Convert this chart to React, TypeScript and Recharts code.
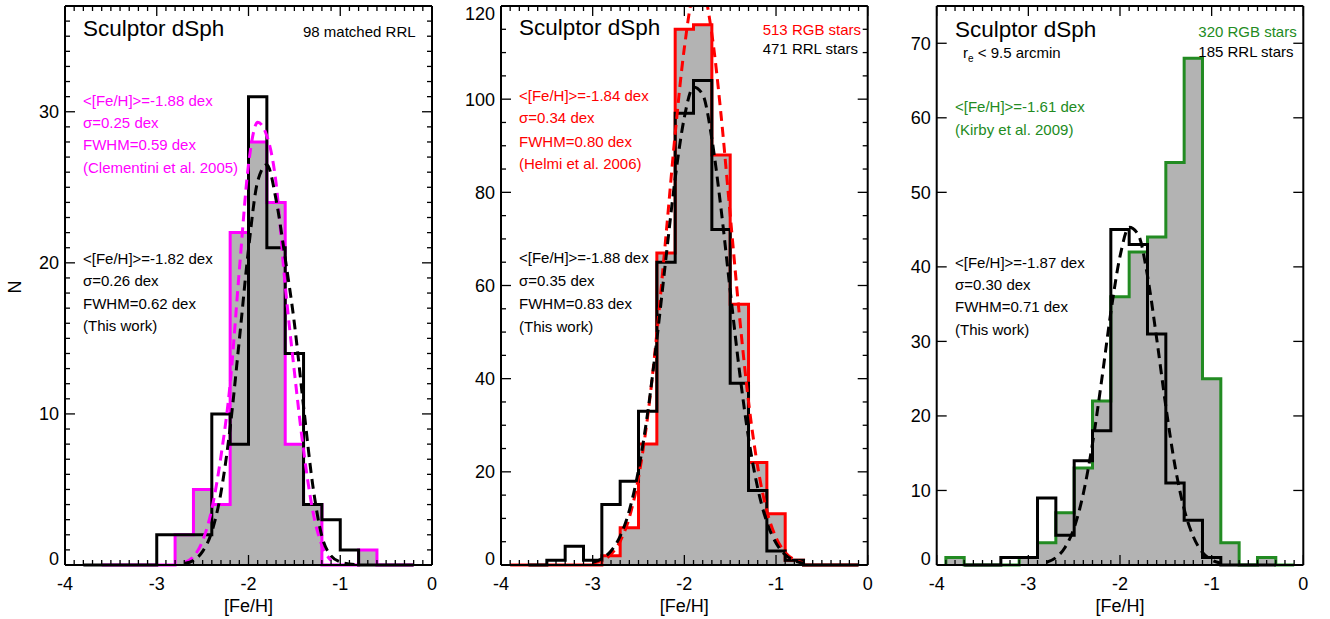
import React from 'react';
import { ComposedChart, Line, Area, XAxis, YAxis } from 'recharts';

const FONT = '"Liberation Sans", Arial, Helvetica, sans-serif';
const BIN_WIDTH = 0.2;
const GREY = '#B3B3B3';
const MAGENTA = '#FF00FF';
const RED = '#FF0000';
const GREEN = '#228B22';

// ---------- axis ticks ----------
const xMajorTicks = [-4, -3, -2, -1, 0];
const xMinorStepTicks = Array.from({ length: 41 }, (_, i) => (i - 40) / 10);

const p1YMajor = [0, 10, 20, 30];
const p1YTicks = Array.from({ length: 38 }, (_, i) => i);
const p2YMajor = [0, 20, 40, 60, 80, 100, 120];
const p2YTicks = Array.from({ length: 25 }, (_, i) => i * 5);
const p3YMajor = [0, 10, 20, 30, 40, 50, 60, 70];
const p3YTicks = [0, 10, 20, 30, 40, 50, 60, 70];

// ---------- Panel 1: 98 matched RRL vs Clementini et al. 2005 ----------
const p1RrlStart = -3.8;
const p1RrlCounts = [0, 0, 0, 0, 2, 2, 2, 10, 8, 31, 21, 14, 4, 3, 1, 0, 0, 0];
const p1ClemStart = -3.6;
const p1ClemCounts = [0, 0, 0, 0, 2, 5, 4, 22, 28, 24, 8, 4, 0, 0, 1, 0, 0];
const p1ClemFitX = [-2.7, -2.6, -2.5, -2.4, -2.3, -2.2, -2.1, -2.0, -1.9, -1.8, -1.7, -1.6, -1.5, -1.4, -1.3, -1.2, -1.1];
const p1ClemFitY = [0.15, 0.55, 1.6, 3.7, 7.2, 12.0, 19.5, 26.5, 29.3, 28.4, 25.3, 18.5, 12.8, 7.6, 3.6, 1.3, 0.3];
const p1RrlFitX = [-2.7, -2.6, -2.5, -2.4, -2.3, -2.2, -2.1, -2.0, -1.9, -1.8, -1.7, -1.6, -1.5, -1.4, -1.3, -1.2, -1.1, -1.0, -0.9, -0.8];
const p1RrlFitY = [0.1, 0.3, 0.9, 2.2, 4.8, 9.1, 14.9, 20.9, 25.4, 26.5, 24.2, 20.3, 16.0, 10.5, 5.3, 1.9, 0.6, 0.2, 0.07, 0.02];

// ---------- Panel 2: 471 RRL vs 513 RGB (Helmi et al. 2006) ----------
const p2RrlStart = -3.7;
const p2RrlCounts = [0, 1, 4, 1, 13, 18, 33, 65, 97, 104, 72, 39, 16, 3, 1, 0, 0, 0];
const p2HelmiStart = -3.9;
const p2HelmiCounts = [0, 0, 0, 0, 0, 2, 8, 26, 67, 115, 116, 88, 56, 22, 11, 1, 0, 0, 0];
const p2FitX = [-3.0, -2.9, -2.8, -2.7, -2.6, -2.5, -2.4, -2.3, -2.2, -2.1, -2.0, -1.9, -1.8, -1.7, -1.6, -1.5, -1.4, -1.3, -1.2, -1.1, -1.0, -0.9, -0.8, -0.7];
const p2RrlFitY = [0.56, 1.36, 3.0, 6.2, 11.7, 20.4, 32.7, 48.4, 66.0, 83.0, 96.1, 102.6, 101.0, 91.5, 76.5, 58.9, 41.8, 27.3, 16.5, 9.2, 4.7, 2.2, 0.96, 0.39];
const p2HelmiFitY = [0.37, 0.96, 2.3, 5.1, 10.2, 18.8, 31.9, 49.7, 70.8, 92.6, 111.0, 122.1, 123.1, 114.0, 96.7, 75.2, 53.7, 35.1, 21.1, 11.6, 5.9, 2.7, 1.15, 0.45];

// ---------- Panel 3: 185 RRL vs 320 RGB (Kirby et al. 2009) ----------
const p3RrlStart = -3.7;
const p3RrlCounts = [0, 0, 1, 1, 9, 4, 14, 18, 45, 43, 31, 11, 6, 1, 0, 0, 0];
const p3KirbyStart = -3.9;
const p3KirbyCounts = [1, 0, 0, 0, 1, 3, 7, 13, 22, 36, 42, 44, 54, 68, 25, 3, 0, 1, 0];
const p3RrlFitX = [-2.8, -2.7, -2.6, -2.5, -2.4, -2.3, -2.2, -2.1, -2.0, -1.9, -1.8, -1.7, -1.6, -1.5, -1.4, -1.3, -1.2, -1.1, -1.0, -0.9];
const p3RrlFitY = [0.37, 0.99, 2.36, 5.0, 9.6, 16.3, 24.8, 33.9, 41.4, 45.3, 44.3, 38.8, 30.4, 21.3, 13.3, 7.5, 3.8, 1.7, 0.68, 0.24];

// ---------- helpers ----------
type Pt = { x: number; y: number };
const r2 = (v: number) => Math.round(v * 100) / 100;
function histSteps(start: number, counts: number[]): Pt[] {
  const pts: Pt[] = [{ x: r2(start), y: 0 }];
  counts.forEach((c, i) => pts.push({ x: r2(start + i * BIN_WIDTH), y: c }));
  const end = r2(start + counts.length * BIN_WIDTH);
  pts.push({ x: end, y: counts[counts.length - 1] });
  pts.push({ x: end, y: 0 });
  return pts;
}
function curve(xs: number[], ys: number[]): Pt[] {
  return xs.map((x, i) => ({ x, y: ys[i] }));
}

const MAJOR_LEN = 10;
const MINOR_LEN = 5;
const TICK_W = 1.3;

const isXMajor = (v: number) => xMajorTicks.some((m) => Math.abs(m - v) < 1e-6);

const BottomTick = (p: any) => {
  const { x, y, payload } = p;
  const v = payload.value;
  const major = isXMajor(v);
  return (
    <g>
      <line x1={x} x2={x} y1={y} y2={y - (major ? MAJOR_LEN : MINOR_LEN)} stroke="#000" strokeWidth={TICK_W} />
      {major && (
        <text x={x} y={y + 25} textAnchor="middle" fontSize={18} fontFamily={FONT} fill="#000">
          {String(Math.round(v))}
        </text>
      )}
    </g>
  );
};
const TopTick = (p: any) => {
  const { x, y, payload } = p;
  const major = isXMajor(payload.value);
  return <line x1={x} x2={x} y1={y} y2={y + (major ? MAJOR_LEN : MINOR_LEN)} stroke="#000" strokeWidth={TICK_W} />;
};
const LeftTick = (p: any) => {
  const { x, y, payload, majors } = p;
  const v = payload.value;
  const major = majors.includes(v);
  const ty = v === 0 ? y : Math.max(y + 6.5, 20);
  return (
    <g>
      <line x1={x} x2={x + (major ? MAJOR_LEN : MINOR_LEN)} y1={y} y2={y} stroke="#000" strokeWidth={TICK_W} />
      {major && (
        <text x={x - 6} y={ty} textAnchor="end" fontSize={18} fontFamily={FONT} fill="#000">
          {String(v)}
        </text>
      )}
    </g>
  );
};
const RightTick = (p: any) => {
  const { x, y, payload, majors } = p;
  const major = majors.includes(payload.value);
  return <line x1={x} x2={x - (major ? MAJOR_LEN : MINOR_LEN)} y1={y} y2={y} stroke="#000" strokeWidth={TICK_W} />;
};

type PanelProps = {
  left: number;
  width: number;
  mLeft: number;
  mRight: number;
  yMax: number;
  yTicks: number[];
  yMajor: number[];
  refPts: Pt[];
  rrlPts: Pt[];
  refFit?: Pt[];
  rrlFit: Pt[];
  color: string;
  clipRefFit?: boolean;
};

// axes take 1px each so that they render; margins compensate
const AX = 1;

function Panel(props: PanelProps) {
  const { left, width, mLeft, mRight, yMax, yTicks, yMajor, refPts, rrlPts, refFit, rrlFit, color, clipRefFit } = props;
  const axisLine = { stroke: '#000', strokeWidth: 2 };
  return (
    <div style={{ position: 'absolute', left, top: 0 }}>
      <ComposedChart
        width={width}
        height={619}
        margin={{ top: 6 - AX, right: mRight - AX, bottom: 54 - AX, left: mLeft - AX }}
      >
        <XAxis
          xAxisId="b"
          type="number"
          dataKey="x"
          domain={[-4, 0]}
          ticks={xMinorStepTicks}
          interval={0}
          tickSize={0}
          tickMargin={0}
          height={AX}
          axisLine={axisLine}
          tickLine={false}
          tick={(p: any) => <BottomTick {...p} />}
        />
        <XAxis
          xAxisId="t"
          orientation="top"
          type="number"
          dataKey="x"
          domain={[-4, 0]}
          allowDataOverflow
          ticks={xMinorStepTicks}
          interval={0}
          tickSize={0}
          tickMargin={0}
          height={AX}
          axisLine={axisLine}
          tickLine={false}
          tick={(p: any) => <TopTick {...p} />}
        />
        <YAxis
          yAxisId="l"
          type="number"
          domain={[0, yMax]}
          ticks={yTicks}
          interval={0}
          tickSize={0}
          tickMargin={0}
          width={AX}
          axisLine={axisLine}
          tickLine={false}
          tick={(p: any) => <LeftTick {...p} majors={yMajor} />}
        />
        <YAxis
          yAxisId="r"
          orientation="right"
          type="number"
          domain={[0, yMax]}
          allowDataOverflow
          ticks={yTicks}
          interval={0}
          tickSize={0}
          tickMargin={0}
          width={AX}
          axisLine={axisLine}
          tickLine={false}
          tick={(p: any) => <RightTick {...p} majors={yMajor} />}
        />
        <YAxis yAxisId="c" hide type="number" domain={[0, yMax]} allowDataOverflow width={0} />
        <Area
          xAxisId="b"
          yAxisId="l"
          data={refPts}
          dataKey="y"
          type="stepAfter"
          stroke="none"
          fill={GREY}
          fillOpacity={1}
          isAnimationActive={false}
        />
        <Line xAxisId="b" yAxisId="l" data={refPts} dataKey="y" type="stepAfter" stroke={color} strokeWidth={3} dot={false} isAnimationActive={false} />
        <Line xAxisId="b" yAxisId="l" data={rrlPts} dataKey="y" type="stepAfter" stroke="#000" strokeWidth={3} dot={false} isAnimationActive={false} />
        {refFit && (
          <Line
            xAxisId="b"
            yAxisId={clipRefFit ? 'c' : 'l'}
            data={refFit}
            dataKey="y"
            type="monotone"
            stroke={color}
            strokeWidth={3}
            strokeDasharray="10 6"
            dot={false}
            isAnimationActive={false}
          />
        )}
        <Line
          xAxisId="b"
          yAxisId="l"
          data={rrlFit}
          dataKey="y"
          type="monotone"
          stroke="#000"
          strokeWidth={3}
          strokeDasharray="10 6"
          dot={false}
          isAnimationActive={false}
        />
      </ComposedChart>
    </div>
  );
}

const T = (p: { x: number; y: number; c?: string; s?: number; a?: 'start' | 'middle' | 'end'; children: React.ReactNode }) => (
  <text x={p.x} y={p.y} fill={p.c || '#000'} fontSize={p.s || 15} fontFamily={FONT} textAnchor={p.a || 'start'}>
    {p.children}
  </text>
);

export default function App() {
  return (
    <div style={{ position: 'absolute', left: 0, top: 0, width: 1330, height: 619, background: '#fff', overflow: 'hidden' }}>
      <Panel
        left={0}
        width={442}
        mLeft={65}
        mRight={10}
        yMax={37}
        yTicks={p1YTicks}
        yMajor={p1YMajor}
        refPts={histSteps(p1ClemStart, p1ClemCounts)}
        rrlPts={histSteps(p1RrlStart, p1RrlCounts)}
        refFit={curve(p1ClemFitX, p1ClemFitY)}
        rrlFit={curve(p1RrlFitX, p1RrlFitY)}
        color={MAGENTA}
      />
      <Panel
        left={440}
        width={440}
        mLeft={61}
        mRight={12.3}
        yMax={120}
        yTicks={p2YTicks}
        yMajor={p2YMajor}
        refPts={histSteps(p2HelmiStart, p2HelmiCounts)}
        rrlPts={histSteps(p2RrlStart, p2RrlCounts)}
        refFit={curve(p2FitX, p2HelmiFitY)}
        rrlFit={curve(p2FitX, p2RrlFitY)}
        color={RED}
        clipRefFit
      />
      <Panel
        left={880}
        width={450}
        mLeft={56.7}
        mRight={26.7}
        yMax={75}
        yTicks={p3YTicks}
        yMajor={p3YMajor}
        refPts={histSteps(p3KirbyStart, p3KirbyCounts)}
        rrlPts={histSteps(p3RrlStart, p3RrlCounts)}
        rrlFit={curve(p3RrlFitX, p3RrlFitY)}
        color={GREEN}
      />
      <svg width={1330} height={619} style={{ position: 'absolute', left: 0, top: 0, pointerEvents: 'none' }}>
        {/* shared labels */}
        <text x={15} y={287} fontSize={18} fontFamily={FONT} textAnchor="middle" dominantBaseline="central" transform="rotate(-90 15 287)">
          N
        </text>
        <T x={248.5} y={611.5} s={18} a="middle">[Fe/H]</T>
        <T x={684.3} y={611.5} s={18} a="middle">[Fe/H]</T>
        <T x={1120} y={611.5} s={18} a="middle">[Fe/H]</T>

        {/* panel 1 */}
        <T x={83} y={36} s={22.5}>Sculptor dSph</T>
        <T x={303} y={36.5}>98 matched RRL</T>
        <T x={83} y={105.7} c={MAGENTA}>{'<[Fe/H]>=-1.88 dex'}</T>
        <T x={83} y={128.2} c={MAGENTA}>σ=0.25 dex</T>
        <T x={83} y={150.3} c={MAGENTA}>FWHM=0.59 dex</T>
        <T x={83} y={172.5} c={MAGENTA}>(Clementini et al. 2005)</T>
        <T x={83} y={264}>{'<[Fe/H]>=-1.82 dex'}</T>
        <T x={83} y={286.3}>σ=0.26 dex</T>
        <T x={83} y={309}>FWHM=0.62 dex</T>
        <T x={83} y={331.3}>(This work)</T>

        {/* panel 2 */}
        <T x={519} y={35} s={22.5}>Sculptor dSph</T>
        <T x={762.7} y={35} c={RED}>513 RGB stars</T>
        <T x={762.7} y={54}>471 RRL stars</T>
        <T x={519} y={100.7} c={RED}>{'<[Fe/H]>=-1.84 dex'}</T>
        <T x={519} y={123.3} c={RED}>σ=0.34 dex</T>
        <T x={519} y={146.5} c={RED}>FWHM=0.80 dex</T>
        <T x={519} y={169.3} c={RED}>(Helmi et al. 2006)</T>
        <T x={519} y={263.3}>{'<[Fe/H]>=-1.88 dex'}</T>
        <T x={519} y={286}>σ=0.35 dex</T>
        <T x={519} y={309.3}>FWHM=0.83 dex</T>
        <T x={519} y={331.7}>(This work)</T>

        {/* panel 3 */}
        <T x={955} y={36.5} s={22.5}>Sculptor dSph</T>
        <text x={963} y={58} fontSize={15} fontFamily={FONT} fill="#000">
          r
          <tspan fontSize={10} dy={4}>e</tspan>
          <tspan dy={-4}>{' < 9.5 arcmin'}</tspan>
        </text>
        <T x={1198.3} y={37.3} c={GREEN}>320 RGB stars</T>
        <T x={1198.3} y={56.7}>185 RRL stars</T>
        <T x={955} y={111.7} c={GREEN}>{'<[Fe/H]>=-1.61 dex'}</T>
        <T x={955} y={135} c={GREEN}>(Kirby et al. 2009)</T>
        <T x={955} y={268.3}>{'<[Fe/H]>=-1.87 dex'}</T>
        <T x={955} y={290}>σ=0.30 dex</T>
        <T x={955} y={311.7}>FWHM=0.71 dex</T>
        <T x={955} y={335}>(This work)</T>
      </svg>
    </div>
  );
}
